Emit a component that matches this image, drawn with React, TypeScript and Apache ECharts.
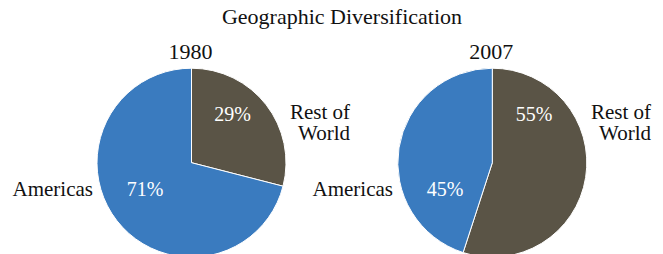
import React, { useEffect, useRef } from "react";
import * as echarts from "echarts";

const title = "Geographic Diversification";
const years = ["1980", "2007"];
const categories = ["Rest of World", "Americas"];
const values1980 = [29, 71];
const values2007 = [55, 45];
const colors = ["#5a5446", "#3a7bbf"];

const FONT = "Liberation Serif";

export default function App() {
  const ref = useRef<HTMLDivElement>(null);
  useEffect(() => {
    if (!ref.current) return;
    const chart = echarts.init(ref.current, undefined, { renderer: "svg" });
    const series = [values1980, values2007];
    const centers = [
      [191.5, 162.7],
      [492.3, 162.7],
    ];
    // label anchors (top of text box) per pie
    const pctPos = [
      [
        [232.5, 103],
        [145, 178],
      ],
      [
        [534, 103],
        [445, 178],
      ],
    ];
    const rowRight = [350, 651];
    const amerRight = [93, 393];

    const t = (
      text: string,
      x: number,
      y: number,
      size: number,
      color: string,
      align: string,
      lineHeight?: number
    ) => ({
      text,
      left: x,
      top: y,
      padding: 0,
      itemGap: 0,
      textAlign: align,
      textStyle: {
        color,
        fontSize: size,
        fontFamily: FONT,
        fontWeight: "normal",
        lineHeight: lineHeight || Math.round(size * 1.05),
      },
    });

    const titles: any[] = [t(title, 342, 5, 22, "#111", "center")];
    years.forEach((yr, i) => {
      const cx = centers[i][0];
      titles.push(t(yr, cx - 1, 40, 22, "#111", "center"));
      const vals = series[i];
      titles.push(t(vals[0] + "%", pctPos[i][0][0], pctPos[i][0][1], 20, "#fff", "center"));
      titles.push(t(vals[1] + "%", pctPos[i][1][0], pctPos[i][1][1], 20, "#fff", "center"));
      const wrapped = categories[0].replace(/ (\S+)$/, "\n$1");
      titles.push(t(wrapped, rowRight[i], 101.5, 21, "#111", "right", 21));
      titles.push(t(categories[1], amerRight[i], 178, 21, "#111", "right"));
    });

    chart.setOption({
      animation: false,
      backgroundColor: "#ffffff",
      title: titles,
      series: series.map((vals, i) => ({
        type: "pie",
        center: centers[i],
        radius: 94.5,
        startAngle: 90,
        clockwise: true,
        label: { show: false },
        labelLine: { show: false },
        silent: true,
        itemStyle: { borderColor: "#ffffff", borderWidth: 1 },
        data: vals.map((v, j) => ({
          name: categories[j],
          value: v,
          itemStyle: { color: colors[j] },
        })),
      })),
    });
    return () => chart.dispose();
  }, []);
  return (
    <div
      ref={ref}
      style={{ position: "absolute", left: 0, top: 0, width: 663, height: 254 }}
    />
  );
}
